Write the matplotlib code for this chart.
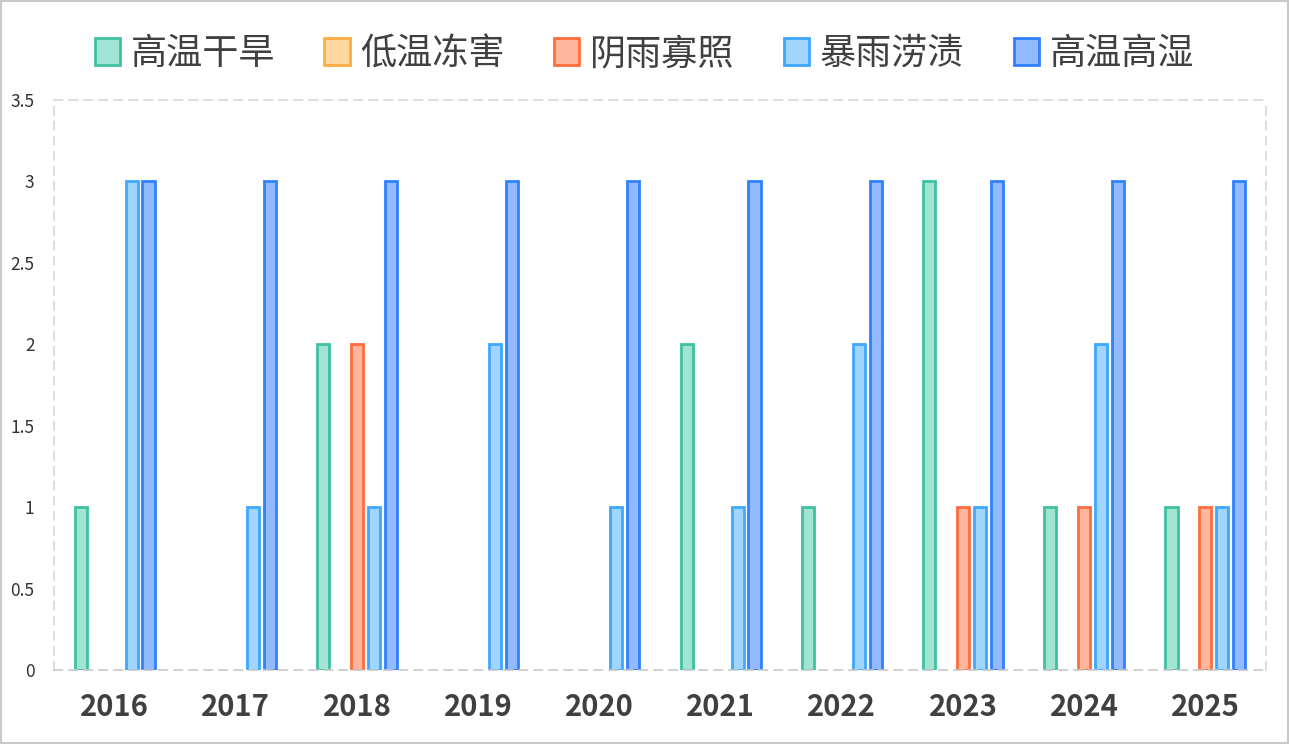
import numpy as np
import matplotlib
matplotlib.use("Agg")
import matplotlib.pyplot as plt
from matplotlib.patches import Rectangle, Patch

plt.rcParams['font.family'] = ['Noto Sans CJK SC', 'DejaVu Sans']

years = ['2016', '2017', '2018', '2019', '2020', '2021', '2022', '2023', '2024', '2025']
series = ['高温干旱', '低温冻害', '阴雨寡照', '暴雨涝渍', '高温高湿']
gaowen_ganhan = [1, 0, 2, 0, 0, 2, 1, 3, 1, 1]
diwen_donghai = [0, 0, 0, 0, 0, 0, 0, 0, 0, 0]
yinyu_guazhao = [0, 0, 2, 0, 0, 0, 0, 1, 1, 1]
baoyu_laozi = [3, 1, 1, 2, 1, 1, 2, 1, 2, 1]
gaowen_gaoshi = [3, 3, 3, 3, 3, 3, 3, 3, 3, 3]
values = [gaowen_ganhan, diwen_donghai, yinyu_guazhao, baoyu_laozi, gaowen_gaoshi]

fills = ['#a2e4d4', '#ffd8a0', '#ffb69c', '#a0d5ff', '#93baff']
edges = ['#3fc1a1', '#ffad42', '#ff6c3e', '#3fa7ff', '#3080ff']

fig = plt.figure(figsize=(12.89, 7.44), dpi=100)
ax = fig.add_axes([54 / 1289, 1 - 670 / 744, (1266 - 54) / 1289, (670 - 100) / 744])

x = np.arange(len(years))
step = 0.14
width = 0.1
for i, (name, vals) in enumerate(zip(series, values)):
    lw = [2 if v > 0 else 0 for v in vals]
    ax.bar(x + (i - 2) * step, vals, width, color=fills[i], edgecolor=edges[i],
           linewidth=lw)

ax.set_xlim(-0.5, len(years) - 0.5)
ax.set_ylim(0, 3.5)
ax.set_yticks([0, 0.5, 1, 1.5, 2, 2.5, 3, 3.5])
ax.set_yticklabels(['0', '0.5', '1', '1.5', '2', '2.5', '3', '3.5'])
ax.set_xticks(x)
ax.set_xticklabels(years, fontsize=21, fontweight='bold', color='#404040')
ax.tick_params(axis='y', labelsize=12.5, colors='#333333', length=0, pad=14)
ax.tick_params(axis='x', length=0, pad=16)
for s in ax.spines.values():
    s.set_linestyle((0, (5, 4)))
    s.set_color('#d8d8d8')
    s.set_linewidth(1.2)
ax.spines['bottom'].set_color('#c8c8c8')

handles = [Patch(facecolor=fills[i], edgecolor=edges[i], linewidth=2) for i in range(len(series))]
leg = fig.legend(handles, series, loc='upper center', bbox_to_anchor=(0.5, 1.0), ncol=5,
                 frameon=False, fontsize=26, handlelength=0.7, handleheight=0.75,
                 columnspacing=1.36, handletextpad=0.3, labelcolor='#404040',
                 borderaxespad=0.6)

fig.add_artist(Rectangle((0.001, 0.001), 0.998, 0.997, transform=fig.transFigure,
                         fill=False, edgecolor='#c8c8c8', linewidth=1.5))

fig.savefig('out.png', dpi=100)
